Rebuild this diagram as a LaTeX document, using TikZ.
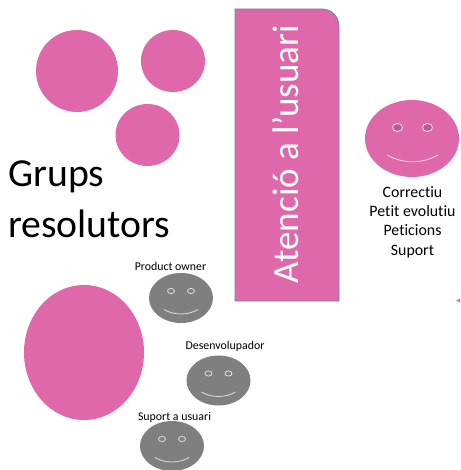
\documentclass[tikz,border=0pt]{standalone}
\usepackage{fontspec}
\setmainfont[RawFeature=-liga]{Carlito}
\definecolor{rosa}{HTML}{DF68AB}
\definecolor{ull}{HTML}{BC5A92}
\definecolor{gris}{HTML}{7F7F7F}
\definecolor{vora}{HTML}{6C84B4}
\tikzset{
  disc/.style={fill=rosa,draw=none},
  label/.style={inner sep=0pt,text=black,font=\fontsize{8.9}{11}\selectfont},
}
\newcommand{\cara}[3]{%
  \fill[gris] (#1,#2) ellipse [x radius=32,y radius=25];
  \draw[#3,line width=0.6pt] (#1-10,#2-7) ellipse [x radius=3.5,y radius=2.6];
  \draw[#3,line width=0.6pt] (#1+10,#2-7) ellipse [x radius=3.5,y radius=2.6];
  \draw[#3,line width=0.6pt] (#1-17,#2+11.5) .. controls (#1-7,#2+17.5) and (#1+7,#2+17.5) .. (#1+17,#2+11.5);
}
\begin{document}
\begin{tikzpicture}[x=0.75pt,y=-0.75pt]
\useasboundingbox (0,0) rectangle (460,470);
\fill[disc] (77,71) ellipse [x radius=41,y radius=41];
\fill[disc] (173,61) ellipse [x radius=32,y radius=31];
\fill[disc] (147.5,135) ellipse [x radius=32,y radius=31];
\fill[disc] (84,352.5) ellipse [x radius=60,y radius=67.5];
\node[anchor=west,inner sep=0pt,font=\fontsize{29.8}{30}\selectfont] (grups) at (8,177) {Grups};
\node[anchor=west,inner sep=0pt,font=\fontsize{29.8}{30}\selectfont] (resolutors) at (8,224) {resolutors};
\draw[fill=rosa,draw=vora,line width=0.6pt] (235,9) -- (322,9) arc [start angle=270,end angle=360,radius=17] -- (339,301) -- (235,301) -- cycle;
\node[rotate=90,inner sep=0pt,text=white,font=\fontsize{27.8}{28}\selectfont] (atencio) at (286,154) {Atenció a l’usuari};
\fill[disc] (412,138.5) ellipse [x radius=47,y radius=38.5];
\draw[fill=ull,draw=white!75!rosa,line width=0.6pt] (397.5,127.5) ellipse [x radius=5,y radius=4];
\draw[fill=ull,draw=white!75!rosa,line width=0.6pt] (427.5,127.5) ellipse [x radius=5,y radius=4];
\draw[white!75!rosa,line width=0.6pt] (387,155) .. controls (403,164) and (422,164) .. (438,155);
\node[align=center,inner sep=0pt,font=\fontsize{11.9}{14.5}\selectfont] (llista) at (412.5,222) {Correctiu\\Petit evolutiu\\Peticions\\Suport};
\cara{181}{298}{white!75!gris}
\cara{218.5}{380.5}{white!75!gris}
\cara{172}{446}{white!75!gris}
\node[label] (po) at (170.5,266) {Product owner};
\node[label] (de) at (225,346) {Desenvolupador};
\node[label] (su) at (174.5,417) {Suport a usuari};
\fill[rosa] (456,300.5) -- (460,298.5) -- (460,302.5) -- cycle;
\end{tikzpicture}
\end{document}
